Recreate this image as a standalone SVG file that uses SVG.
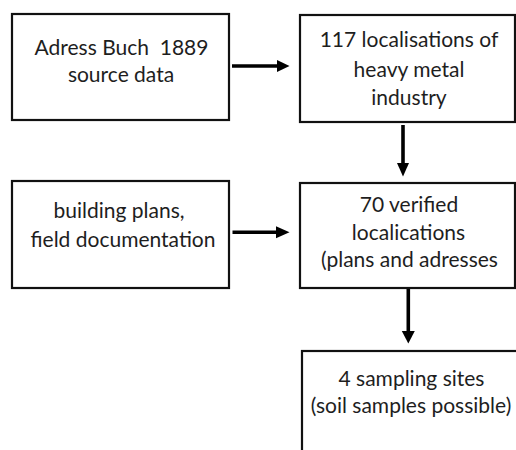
<svg xmlns="http://www.w3.org/2000/svg" width="516" height="450" viewBox="0 0 516 450">
  <style>
    .box { fill: #ffffff; stroke: #111111; stroke-width: 2.2; }
    .lbl { font-family: Lato, "Liberation Sans", sans-serif; font-size: 21px; fill: #1e1e1e; text-anchor: middle; white-space: pre; }
    .line { stroke: #000000; stroke-width: 3.6; fill: none; }
    .head { fill: #000000; }
  </style>
  <rect width="516" height="450" fill="#ffffff"/>
  <g id="node-adress-buch">
    <rect class="box" x="12" y="14" width="217" height="106"/>
    <text class="lbl" x="121.5" y="55" xml:space="preserve">Adress Buch  1889</text>
    <text class="lbl" x="121" y="81.5">source data</text>
  </g>
  <g id="node-117-localisations">
    <rect class="box" x="300" y="15" width="215" height="107"/>
    <text class="lbl" x="409" y="47.3">117 localisations of</text>
    <text class="lbl" x="409" y="76.5">heavy metal</text>
    <text class="lbl" x="409" y="105">industry</text>
  </g>
  <g id="node-building-plans">
    <rect class="box" x="12" y="181" width="217" height="107"/>
    <text class="lbl" x="119" y="218.3">building plans,</text>
    <text class="lbl" x="123" y="246.7">field documentation</text>
  </g>
  <g id="node-70-verified">
    <rect class="box" x="300" y="183" width="215" height="105"/>
    <text class="lbl" x="409" y="211.7">70 verified</text>
    <text class="lbl" x="408.5" y="240">localications</text>
    <text class="lbl" x="409.5" y="266.7">(plans and adresses</text>
  </g>
  <g id="node-4-sampling-sites">
    <rect class="box" x="302" y="351" width="218" height="110"/>
    <text class="lbl" x="411.5" y="386">4 sampling sites</text>
    <text class="lbl" x="411" y="413.3">(soil samples possible)</text>
  </g>
  <g id="connectors">
    <line class="line" x1="232" y1="66" x2="278" y2="66"/>
    <polygon class="head" points="277,60 289.5,66 277,72"/>
    <line class="line" x1="403" y1="125" x2="403" y2="165"/>
    <polygon class="head" points="397,163 403,176.5 409,163"/>
    <line class="line" x1="232.5" y1="232.3" x2="278" y2="232.3"/>
    <polygon class="head" points="276,226.3 289.5,232.3 276,238.3"/>
    <line class="line" x1="408.3" y1="289" x2="408.3" y2="333"/>
    <polygon class="head" points="401.8,331 408.3,343.5 414.8,331"/>
  </g>
</svg>
